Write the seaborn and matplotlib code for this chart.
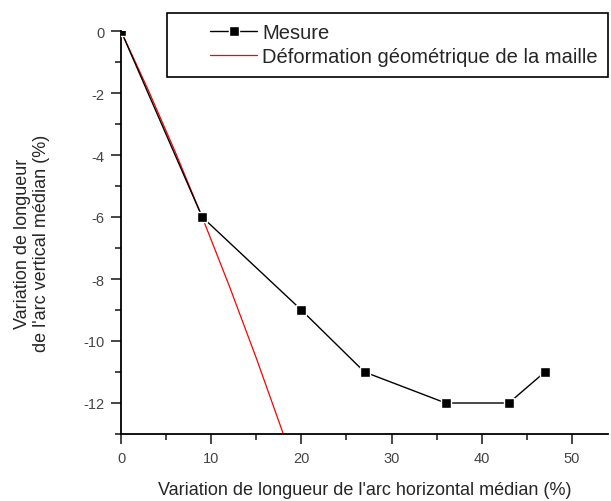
import matplotlib
matplotlib.use("Agg")
import matplotlib.pyplot as plt
from matplotlib.patches import Rectangle
from matplotlib.ticker import MultipleLocator
import pandas as pd
import seaborn as sns

# Measured arc-length variations (%)
mesure_x = [0, 9, 20, 27, 36, 43, 47]
mesure_y = [0, -6, -9, -11, -12, -12, -11]

# Geometric mesh deformation curve (%)
deform_x = [0, 3, 6, 9, 12, 15, 18, 19]
deform_y = [0, -1.89, -3.89, -6.0, -8.22, -10.55, -13.0, -13.84]

label_mesure = "Mesure"
label_deform = "Déformation géométrique de la maille"
xlabel = "Variation de longueur de l'arc horizontal médian (%)"
ylabel = "Variation de longueur\nde l'arc vertical médian (%)"

sns.set_style("ticks")
plt.rcParams["font.family"] = ["Liberation Sans", "DejaVu Sans"]
plt.rcParams["axes.unicode_minus"] = False

df_m = pd.DataFrame({"x": mesure_x, "y": mesure_y})
df_d = pd.DataFrame({"x": deform_x, "y": deform_y})

W, H = 611, 502
fig = plt.figure(figsize=(W / 100, H / 100), dpi=100)
ax = fig.add_axes([121 / W, 1 - 435 / H, 487 / W, 403 / H])

sns.lineplot(data=df_m, x="x", y="y", sort=False, ax=ax, color="black",
             linewidth=1.0, marker="s", markersize=6.5,
             markerfacecolor="black", markeredgecolor="white",
             markeredgewidth=1.0, label=label_mesure, zorder=3)
sns.lineplot(data=df_d, x="x", y="y", sort=False, ax=ax, color="red",
             linewidth=0.9, label=label_deform, zorder=2)

ax.set_xlim(0, 54)
ax.set_ylim(-13, 0)
ax.xaxis.set_major_locator(MultipleLocator(10))
ax.xaxis.set_minor_locator(MultipleLocator(5))
ax.yaxis.set_major_locator(MultipleLocator(2))
ax.yaxis.set_minor_locator(MultipleLocator(1))

sns.despine(ax=ax)
for s in ("left", "bottom"):
    ax.spines[s].set_linewidth(1.3)
    ax.spines[s].set_color("black")

ax.tick_params(which="major", direction="out", length=7, width=1.2,
               labelsize=10.5, labelcolor="#444444", pad=5)
ax.tick_params(which="minor", direction="out", length=4.5, width=1.2)

ax.set_xlabel(xlabel, fontsize=13, labelpad=12)
ax.set_ylabel(ylabel, fontsize=13, linespacing=1.15)
ax.yaxis.set_label_coords(-0.145, 0.475)

# Legend: boxed panel at the top, entries inset from its left edge
handles, labels = ax.get_legend_handles_labels()
ax.get_legend().remove()

box = Rectangle((167 / W, 1 - 78 / H), 441 / W, 64 / H,
                transform=fig.transFigure, facecolor="white",
                edgecolor="black", linewidth=1.2, zorder=4)
fig.add_artist(box)

leg = fig.legend(handles, labels, loc="center left",
                 bbox_to_anchor=(210 / W, 1 - 45.5 / H),
                 frameon=False, fontsize=14.5, handlelength=2.34,
                 handletextpad=0.25, borderpad=0, labelspacing=0.25,
                 borderaxespad=0)
leg.set_zorder(5)

fig.savefig("out.png", dpi=100)
